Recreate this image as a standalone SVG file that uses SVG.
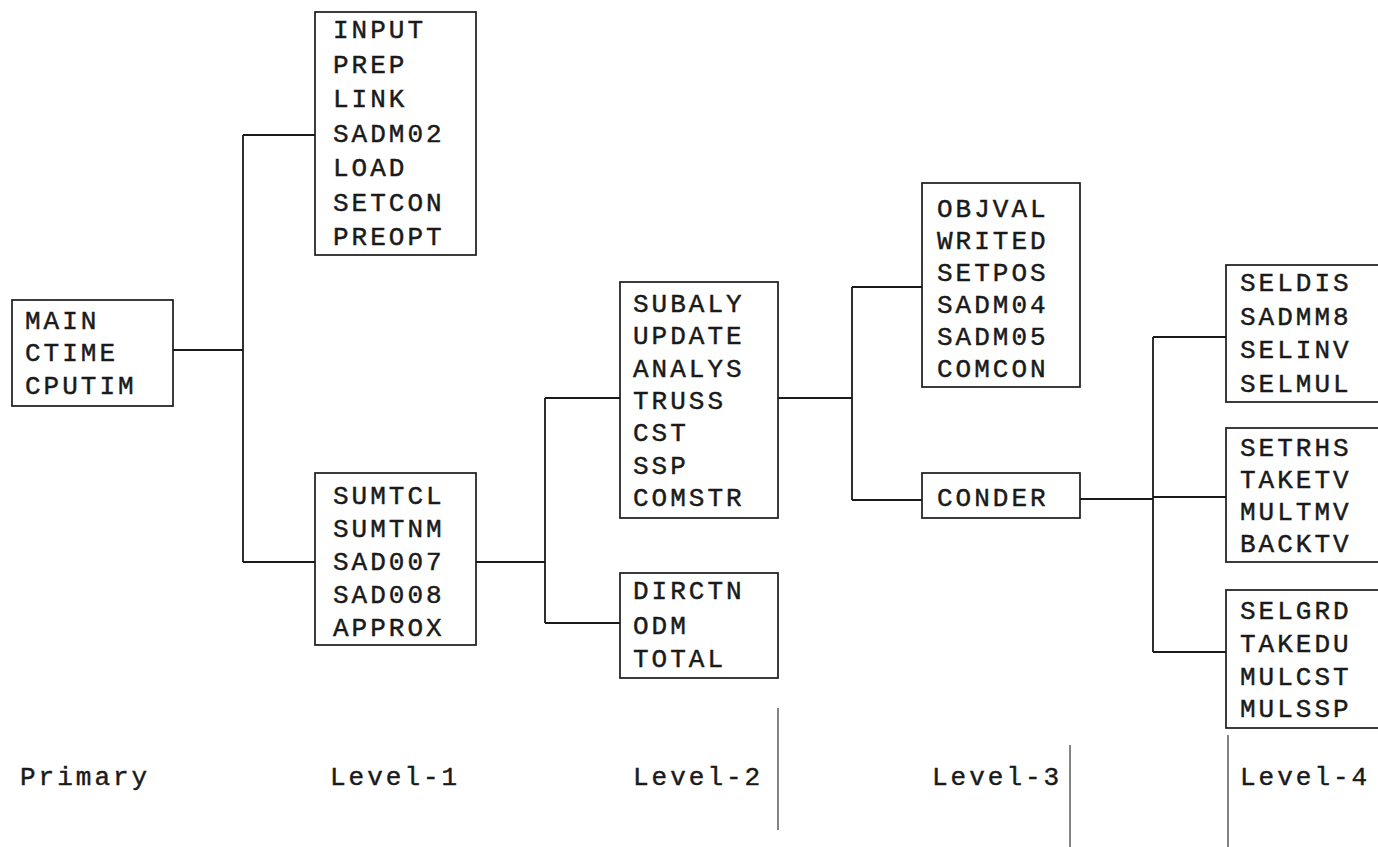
<svg xmlns="http://www.w3.org/2000/svg" width="1378" height="847" viewBox="0 0 1378 847">
<style>
.box{fill:#fff;stroke:#1a1a1a;stroke-width:1.7}
.t{font-family:"Liberation Mono","DejaVu Sans Mono",monospace;font-size:26px;letter-spacing:3px;fill:#1a1a1a;stroke:#1a1a1a;stroke-width:0.45}
.c{stroke:#1a1a1a;stroke-width:1.8;fill:none}
.g{stroke:#333;stroke-width:1.2;fill:none}
</style>
<rect width="1378" height="847" fill="#fff"/>
<g id="connectors">
<path class="c" d="M173,350H243M243,135V562M243,135H315M243,562H315M476,562H545M545,398V623M545,398H620M545,623H620M778,398H852M852,287V500M852,287H922M852,500H922M1080,499H1153M1153,337V652M1153,337H1226M1153,497H1226M1153,652H1226"/>
<path class="g" d="M778,708V830M1070,745V847M1228,735V847"/>
</g>
<g id="main">
<rect class="box" x="12" y="300" width="161" height="106"/>
<text class="t" x="25" y="329">MAIN</text>
<text class="t" x="25" y="361">CTIME</text>
<text class="t" x="25" y="394">CPUTIM</text>
</g>
<g id="l1a">
<rect class="box" x="315" y="12" width="161" height="243"/>
<text class="t" x="333" y="38">INPUT</text>
<text class="t" x="333" y="73">PREP</text>
<text class="t" x="333" y="107">LINK</text>
<text class="t" x="333" y="142">SADM02</text>
<text class="t" x="333" y="176">LOAD</text>
<text class="t" x="333" y="211">SETCON</text>
<text class="t" x="333" y="245">PREOPT</text>
</g>
<g id="l1b">
<rect class="box" x="315" y="473" width="161" height="172"/>
<text class="t" x="333" y="504">SUMTCL</text>
<text class="t" x="333" y="537">SUMTNM</text>
<text class="t" x="333" y="570">SAD007</text>
<text class="t" x="333" y="603">SAD008</text>
<text class="t" x="333" y="636">APPROX</text>
</g>
<g id="l2a">
<rect class="box" x="620" y="282" width="158" height="236"/>
<text class="t" x="633" y="312">SUBALY</text>
<text class="t" x="633" y="344">UPDATE</text>
<text class="t" x="633" y="377">ANALYS</text>
<text class="t" x="633" y="409">TRUSS</text>
<text class="t" x="633" y="441">CST</text>
<text class="t" x="633" y="474">SSP</text>
<text class="t" x="633" y="506">COMSTR</text>
</g>
<g id="l2b">
<rect class="box" x="620" y="573" width="158" height="105"/>
<text class="t" x="633" y="599">DIRCTN</text>
<text class="t" x="633" y="634">ODM</text>
<text class="t" x="633" y="667">TOTAL</text>
</g>
<g id="l3a">
<rect class="box" x="922" y="183" width="158" height="204"/>
<text class="t" x="937" y="217">OBJVAL</text>
<text class="t" x="937" y="249">WRITED</text>
<text class="t" x="937" y="281">SETPOS</text>
<text class="t" x="937" y="313">SADM04</text>
<text class="t" x="937" y="345">SADM05</text>
<text class="t" x="937" y="377">COMCON</text>
</g>
<g id="l3b">
<rect class="box" x="922" y="473" width="158" height="45"/>
<text class="t" x="937" y="506">CONDER</text>
</g>
<g id="l4a">
<rect class="box" x="1226" y="265" width="170" height="137"/>
<text class="t" x="1240" y="291">SELDIS</text>
<text class="t" x="1240" y="325">SADMM8</text>
<text class="t" x="1240" y="358">SELINV</text>
<text class="t" x="1240" y="392">SELMUL</text>
</g>
<g id="l4b">
<rect class="box" x="1226" y="428" width="170" height="134"/>
<text class="t" x="1240" y="456">SETRHS</text>
<text class="t" x="1240" y="488">TAKETV</text>
<text class="t" x="1240" y="520">MULTMV</text>
<text class="t" x="1240" y="552">BACKTV</text>
</g>
<g id="l4c">
<rect class="box" x="1226" y="590" width="170" height="138"/>
<text class="t" x="1240" y="619">SELGRD</text>
<text class="t" x="1240" y="652">TAKEDU</text>
<text class="t" x="1240" y="685">MULCST</text>
<text class="t" x="1240" y="717">MULSSP</text>
</g>
<g id="labels">
<text class="t" x="20" y="785">Primary</text>
<text class="t" x="330" y="785">Level-1</text>
<text class="t" x="633" y="785">Level-2</text>
<text class="t" x="932" y="785">Level-3</text>
<text class="t" x="1240" y="785">Level-4</text>
</g>
</svg>
